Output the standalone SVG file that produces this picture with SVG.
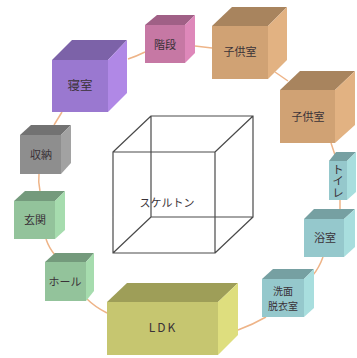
<svg xmlns="http://www.w3.org/2000/svg" width="357" height="358" viewBox="0 0 357 358">
<style>
text{font-family:"Noto Sans CJK JP","Noto Sans",sans-serif;font-size:11px;fill:#3a3238;text-anchor:middle}
.c{fill:none;stroke:#eeb488;stroke-width:1.5}
.w{fill:none;stroke:#4a4a4a;stroke-width:1.2}
.purple .f{fill:#9a78d0}.purple .t{fill:#7c62a8}.purple .s{fill:#b088e6}
.pink .f{fill:#c678a4}.pink .t{fill:#a06086}.pink .s{fill:#de88ba}
.tan .f{fill:#d0a274}.tan .t{fill:#a8845e}.tan .s{fill:#e2b282}
.teal .f{fill:#95c8cc}.teal .t{fill:#76a0a2}.teal .s{fill:#a8dede}
.green .f{fill:#93c39b}.green .t{fill:#749a7c}.green .s{fill:#a6dcae}
.gray .f{fill:#8e8e8e}.gray .t{fill:#727272}.gray .s{fill:#a2a2a2}
.olive .f{fill:#c6c670}.olive .t{fill:#9e9e58}.olive .s{fill:#dede7e}
</style>
<g id="connectors">
<path class="c" d="M128 59Q137 56 145 52"/>
<path class="c" d="M195 46L212 48"/>
<path class="c" d="M275 72L288 81"/>
<path class="c" d="M331 143L335 155"/>
<path class="c" d="M340 200L340 209"/>
<path class="c" d="M323 257Q319 268 313 275"/>
<path class="c" d="M266 317Q252 325 238 330"/>
<path class="c" d="M107 313Q95 307 87 299"/>
<path class="c" d="M55 255Q49 248 46 239"/>
<path class="c" d="M40 191Q38 182 39 174"/>
<path class="c" d="M54 125L62 112"/>
</g>
<g id="skeleton">
<path class="w" d="M113 152H215V253H113ZM151 116H253V217H151ZM113 152L151 116M215 152L253 116M215 253L253 217M113 253L151 217"/>
<text x="167" y="207">スケルトン</text>
</g>
<g id="bedroom" class="purple">
<path class="f" d="M52 60H108V112H52Z"/><path class="t" d="M52 60L72 40H127L108 60Z"/><path class="s" d="M108 60L127 40V93L108 112Z"/>
<text x="80" y="90" style="font-size:12.5px">寝室</text>
</g>
<g id="stairs" class="pink">
<path class="f" d="M145 25H185V63H145Z"/><path class="t" d="M145 25L157 15H195L185 25Z"/><path class="s" d="M185 25L195 15V53L185 63Z"/>
<text x="165" y="49">階段</text>
</g>
<g id="child1" class="tan">
<path class="f" d="M212 26H268V79H212Z"/><path class="t" d="M212 26L232 7H287L268 26Z"/><path class="s" d="M268 26L287 7V60L268 79Z"/>
<text x="240" y="56">子供室</text>
</g>
<g id="child2" class="tan">
<path class="f" d="M280 90H335V143H280Z"/><path class="t" d="M280 90L300 71H355L335 90Z"/><path class="s" d="M335 90L355 71V125L335 143Z"/>
<text x="308" y="121">子供室</text>
</g>
<g id="toilet" class="teal">
<path class="f" d="M329 161H347V200H329Z"/><path class="t" d="M329 161L336 152H356L347 161Z"/><path class="s" d="M347 161L356 152V192L347 200Z"/>
<text x="338" y="181" style="writing-mode:vertical-rl;font-size:11.5px">トイレ</text>
</g>
<g id="bath" class="teal">
<path class="f" d="M304 219H344V257H304Z"/><path class="t" d="M304 219L314 209H355L344 219Z"/><path class="s" d="M344 219L355 209V247L344 257Z"/>
<text x="325" y="242">浴室</text>
</g>
<g id="washroom" class="teal">
<path class="f" d="M262 279H304V317H262Z"/><path class="t" d="M262 279L273 269H314L304 279Z"/><path class="s" d="M304 279L314 269V308L304 317Z"/>
<text style="font-size:10px"><tspan x="283" y="295">洗面</tspan><tspan x="283" y="310">脱衣室</tspan></text>
</g>
<g id="ldk" class="olive">
<path class="f" d="M107 302H218V355H107Z"/><path class="t" d="M107 302L127 283H238L218 302Z"/><path class="s" d="M218 302L238 283V335L218 355Z"/>
<text x="163" y="332" style="font-size:12px;letter-spacing:2px">LDK</text>
</g>
<g id="hall" class="green">
<path class="f" d="M45 262H86V301H45Z"/><path class="t" d="M45 262L55 253H94L86 262Z"/><path class="s" d="M86 262L94 253V291L86 301Z"/>
<text x="65" y="286">ホール</text>
</g>
<g id="entrance" class="green">
<path class="f" d="M14 201H55V239H14Z"/><path class="t" d="M14 201L25 191H65L55 201Z"/><path class="s" d="M55 201L65 191V230L55 239Z"/>
<text x="35" y="224">玄関</text>
</g>
<g id="storage" class="gray">
<path class="f" d="M20 135H61V174H20Z"/><path class="t" d="M20 135L31 125H71L61 135Z"/><path class="s" d="M61 135L71 125V163L61 174Z"/>
<text x="41" y="159">収納</text>
</g>
</svg>
